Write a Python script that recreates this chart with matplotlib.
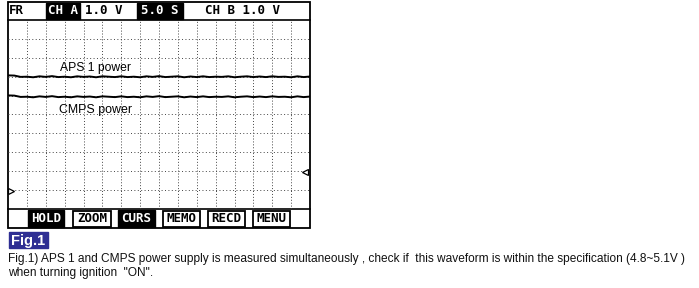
import numpy as np
import matplotlib.pyplot as plt
from matplotlib.patches import Rectangle

# scope header / soft keys
header_boxes = ['CH A', '5.0 S']
header_plain = ['FR', '1.0 V', 'CH B 1.0 V']
buttons = ['HOLD', 'ZOOM', 'CURS', 'MEMO', 'RECD', 'MENU']
button_inverted = [True, False, True, False, False, False]

# traces, in grid divisions (0 = bottom, 10 = top)
aps_level = [7.07, 7.06, 6.99, 7.0, 6.97, 7.02, 6.99, 7.03, 6.98, 7.0, 6.97, 7.02,
             6.99, 7.01, 6.97, 7.02, 7.0, 6.98, 7.02, 6.98, 7.0, 6.97, 7.02, 6.99,
             7.03, 6.98, 7.0, 7.02, 6.97, 7.01, 6.98, 7.02, 6.98, 7.0, 6.99, 7.02,
             6.97, 7.0, 7.02, 6.98, 7.01, 6.98, 7.02, 6.99, 7.0, 6.97, 7.02, 6.98, 7.01]
cmps_level = [6.01, 6.0, 5.93, 5.94, 5.91, 5.96, 5.93, 5.97, 5.92, 5.94, 5.91, 5.96,
              5.93, 5.95, 5.91, 5.96, 5.94, 5.92, 5.96, 5.92, 5.94, 5.91, 5.96, 5.93,
              5.97, 5.92, 5.94, 5.96, 5.91, 5.95, 5.92, 5.96, 5.92, 5.94, 5.93, 5.96,
              5.91, 5.94, 5.96, 5.92, 5.95, 5.92, 5.96, 5.93, 5.94, 5.91, 5.96, 5.92, 5.95]
gnd_a = 0.95
gnd_b = 1.96

caption = ['Fig.1) APS 1 and CMPS power supply is measured simultaneously , check if  '
           'this waveform is within the specification (4.8~5.1V )',
           'when turning ignition  "ON".']

W, H = 699, 288
fig = plt.figure(figsize=(W / 100, H / 100), dpi=100)
ax = fig.add_axes([0, 0, 1, 1])
ax.set_xlim(0, W)
ax.set_ylim(H, 0)
ax.axis('off')

mono = dict(family='DejaVu Sans Mono', weight='bold', fontsize=9, va='center')

# screen frame
ax.add_patch(Rectangle((8, 2), 302, 226, fill=False, lw=1.3, ec='black'))
ax.plot([8, 310], [20, 20], color='black', lw=1.2)
ax.plot([8, 310], [209, 209], color='black', lw=1.2)

# header
ax.text(9, 11, header_plain[0], ha='left', **mono)
for (x0, x1), lab in zip([(46, 80), (137, 183)], header_boxes):
    ax.add_patch(Rectangle((x0, 3), x1 - x0, 16, color='black'))
    ax.text((x0 + x1) / 2, 11, lab, ha='center', color='white', **mono)
ax.text(85, 11, header_plain[1], ha='left', **mono)
ax.text(205, 11, header_plain[2], ha='left', **mono)

# soft keys
bx = [(28, 64), (73, 111), (118, 155), (163, 200), (208, 245), (253, 290)]
for (x0, x1), lab, inv in zip(bx, buttons, button_inverted):
    if inv:
        ax.add_patch(Rectangle((x0, 210), x1 - x0, 17, color='black'))
        ax.text((x0 + x1) / 2, 219, lab, ha='center', color='white', **mono)
    else:
        ax.add_patch(Rectangle((x0, 210.5), x1 - x0, 16, fill=False, lw=1.3, ec='black'))
        ax.text((x0 + x1) / 2, 219, lab, ha='center', color='black', **mono)

# grid area
gx = fig.add_axes([8 / W, (H - 209) / H, 302 / W, 189 / H])
gx.set_xlim(0, 16)
gx.set_ylim(0, 10)
gx.axis('off')
for i in range(1, 16):
    gx.axvline(i, color='#444444', lw=0.7, ls=(0, (1, 2)))
for j in range(1, 10):
    gx.axhline(j, color='#444444', lw=0.7, ls=(0, (1, 2.5)))

t = np.linspace(0, 16, len(aps_level))
gx.plot(t, aps_level, color='black', lw=1.4)
gx.plot(t, cmps_level, color='black', lw=1.4)
gx.text(2.75, 7.45, 'APS 1 power', family='Liberation Sans', fontsize=8.7, va='center')
gx.text(2.7, 5.25, 'CMPS power', family='Liberation Sans', fontsize=8.9, va='center')

gx.plot([0.15], [gnd_a], marker='>', ms=5, mfc='white', mec='black', mew=0.9, clip_on=False)
gx.plot([15.75], [gnd_b], marker='<', ms=5, mfc='white', mec='black', mew=0.9, clip_on=False)

# figure tag and caption
ax.add_patch(Rectangle((9, 232), 39, 16, color='#2e2e93'))
ax.text(28.5, 240.5, 'Fig.1', ha='center', va='center', color='white',
        family='Liberation Sans', weight='bold', fontsize=10.5)
ax.text(8, 259, caption[0], ha='left', va='center', family='Liberation Sans',
        fontsize=8.6, color='#111111')
ax.text(8, 273, caption[1], ha='left', va='center', family='Liberation Sans',
        fontsize=8.6, color='#111111')

fig.savefig('out.png', dpi=100)
